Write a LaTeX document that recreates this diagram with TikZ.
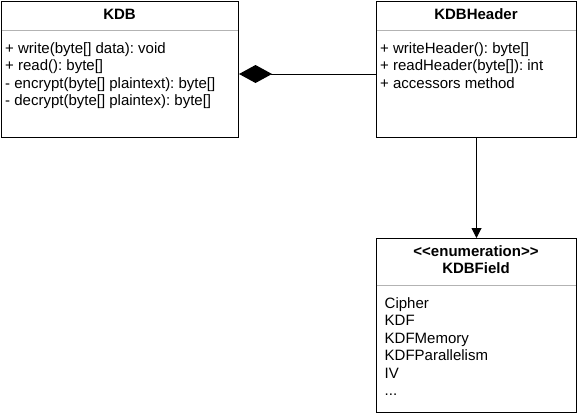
\documentclass[tikz,border=0pt]{standalone}
\usepackage{fontspec}
\setmainfont{Liberation Sans}
\usetikzlibrary{arrows.meta}
\definecolor{sepgray}{RGB}{179,179,179}
\frenchspacing
\begin{document}
\begin{tikzpicture}[x=1pt,y=-1pt,
  umlbox/.style={draw=black, line width=1pt, fill=white, anchor=north west, inner sep=0pt},
  sepline/.style={draw=sepgray, line width=1pt},
  titletext/.style={font=\fontsize{15}{17.5}\selectfont\bfseries\frenchspacing, inner sep=0pt, anchor=base},
  membertext/.style={font=\fontsize{15}{17.5}\selectfont\frenchspacing, inner sep=0pt, anchor=base west, align=left},
  conn/.style={draw=black, line width=1pt}
]
\useasboundingbox[fill=white] (0,0) rectangle (578,415);
% KDB
\node[umlbox, minimum width=237pt, minimum height=136pt] (kdb) at (1,1) {};
\draw[sepline] (1.5,30) -- (237.5,30);
\node[titletext] (kdbt) at (119.5,19.5) {KDB};
\node[membertext] (kdbm1) at (5,53.3) {+ write(byte[] data): void};
\node[membertext] (kdbm2) at (5,70.8) {+ read(): byte[]};
\node[membertext] (kdbm3) at (5,88.3) {- encrypt(byte[] plaintext): byte[]};
\node[membertext] (kdbm4) at (5,105.8) {- decrypt(byte[] plaintex): byte[]};
% KDBHeader
\node[umlbox, minimum width=200pt, minimum height=136pt] (kdbh) at (376,1) {};
\draw[sepline] (376.5,30) -- (575.5,30);
\node[titletext] (kdbht) at (476,19.5) {KDBHeader};
\node[membertext] (kdbhm1) at (380,53.3) {+ writeHeader(): byte[]};
\node[membertext] (kdbhm2) at (380,70.8) {+ readHeader(byte[]): int};
\node[membertext] (kdbhm3) at (380,88.3) {+ accessors method};
% KDBField
\node[umlbox, minimum width=200pt, minimum height=174pt] (kdbf) at (376,238) {};
\draw[sepline] (376.5,285) -- (575.5,285);
\node[titletext] (kdbft1) at (476,256) {{<}{<}enumeration{>}{>}};
\node[titletext] (kdbft2) at (476,273.5) {KDBField};
\node[membertext] (f1) at (384.5,308.3) {Cipher};
\node[membertext] (f2) at (384.5,325.8) {KDF};
\node[membertext] (f3) at (384.5,343.3) {KDFMemory};
\node[membertext] (f4) at (384.5,360.8) {KDFParallelism};
\node[membertext] (f5) at (384.5,378.3) {IV};
\node[membertext] (f6) at (384.5,395.8) {...};
% connectors
\draw[conn, -{Diamond[length=33pt,width=18pt,line width=0pt]}] (kdbh.west |- 0,74) -- (kdb.east |- 0,74);
\draw[conn, -{Triangle[length=10pt,width=10pt]}] (kdbh.south) -- (kdbf.north);
\end{tikzpicture}
\end{document}
